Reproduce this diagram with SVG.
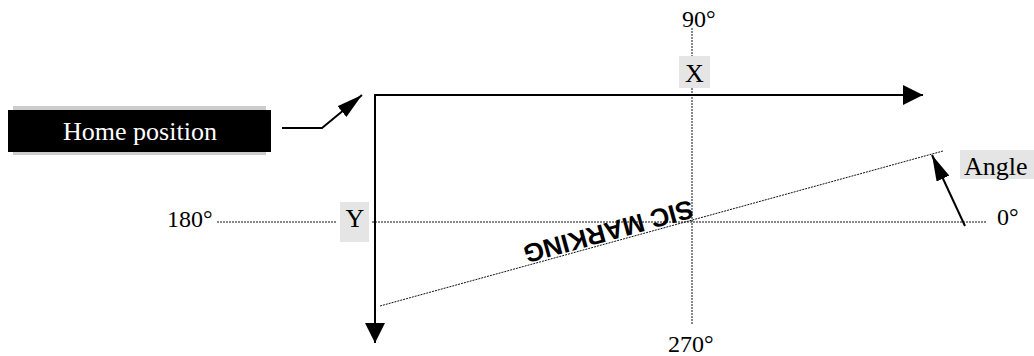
<svg xmlns="http://www.w3.org/2000/svg" width="1034" height="356" viewBox="0 0 1034 356">
  <style>
    .lbl { font-family: "Liberation Serif", "Times New Roman", serif; font-size: 24px; fill: #000; }
    .big { font-family: "Liberation Serif", "Times New Roman", serif; font-size: 26px; }
    .dot { stroke: #111; stroke-width: 1; stroke-dasharray: 2 1; fill: none; }
    .axis { stroke: #000; stroke-width: 2; fill: none; }
    .box { fill: #e5e5e5; }
  </style>
  <defs>
    <marker id="ah" markerWidth="20" markerHeight="20" refX="20" refY="10" orient="auto" markerUnits="userSpaceOnUse">
      <path d="M0,0 L20,10 L0,20 Z" fill="#000"/>
    </marker>
    <marker id="ahs" markerWidth="26" markerHeight="14" refX="26" refY="7" orient="auto" markerUnits="userSpaceOnUse">
      <path d="M0,0 L26,7 L0,14 Z" fill="#000"/>
    </marker>
  </defs>

  <g id="guides">
    <line class="dot" x1="692" y1="28" x2="692" y2="56"/>
    <line class="dot" x1="692" y1="88" x2="692" y2="325"/>
    <line class="dot" x1="217" y1="222" x2="337" y2="222"/>
    <line class="dot" x1="372" y1="222" x2="987" y2="222"/>
    <line class="dot" x1="380" y1="306" x2="943" y2="151"/>
  </g>

  <g id="connectors">
    <line class="axis" x1="374" y1="95" x2="923" y2="95" marker-end="url(#ah)"/>
    <line class="axis" x1="375" y1="94" x2="375" y2="343" marker-end="url(#ah)"/>
    <polyline class="axis" points="282,128 322,128 362,95" marker-end="url(#ahs)"/>
    <line class="axis" x1="965" y1="226" x2="932" y2="155" marker-end="url(#ahs)"/>
  </g>

  <g id="home-position">
    <rect x="13" y="106" width="253" height="49" fill="#cccccc"/>
    <rect x="8" y="110" width="263" height="42" fill="#000"/>
    <text class="big" x="140" y="140" text-anchor="middle" fill="#fff">Home position</text>
  </g>

  <g id="label-x">
    <rect class="box" x="679" y="56" width="31" height="32"/>
    <text class="big" x="694.5" y="82" text-anchor="middle">X</text>
  </g>

  <g id="label-y">
    <rect class="box" x="340" y="202" width="29" height="40"/>
    <text class="big" x="355" y="227" text-anchor="middle">Y</text>
  </g>

  <g id="label-angle">
    <rect class="box" x="960" y="150" width="74" height="29"/>
    <text class="big" x="964" y="175">Angle</text>
  </g>

  <g id="degrees">
    <text class="lbl" x="682" y="27">90°</text>
    <text class="lbl" x="167" y="227">180°</text>
    <text class="lbl" x="997" y="225">0°</text>
    <text class="lbl" x="668" y="352">270°</text>
  </g>

  <g id="sic-marking">
    <text transform="translate(606,223) rotate(164.6)" x="0" y="0" text-anchor="middle" font-family="'Liberation Sans', Arial, sans-serif" font-weight="bold" font-size="26">SIC MARKING</text>
  </g>
</svg>
